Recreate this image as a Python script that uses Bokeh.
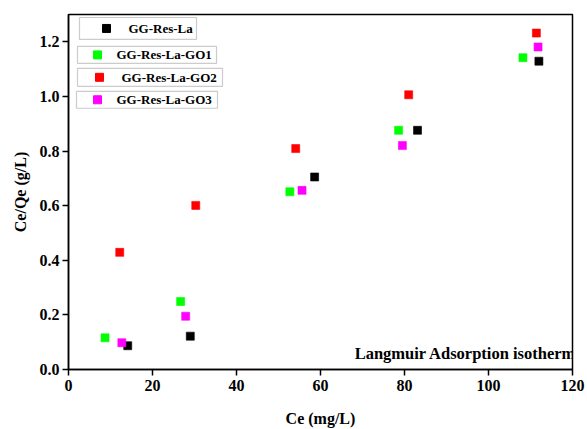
from bokeh.plotting import figure
from bokeh.embed import file_html
from bokeh.resources import INLINE
from bokeh.models import Range1d, FixedTicker, Label, BoxAnnotation, CustomJSTickFormatter

# Data (Ce in mg/L, Ce/Qe in g/L)
la_x = [14.1, 29.0, 58.6, 83.1, 112.0]
la_y = [0.087, 0.122, 0.705, 0.876, 1.129]
go1_x = [8.7, 26.7, 52.7, 78.6, 108.2]
go1_y = [0.116, 0.249, 0.651, 0.876, 1.142]
go2_x = [12.2, 30.3, 54.1, 81.0, 111.4]
go2_y = [0.429, 0.601, 0.809, 1.006, 1.232]
go3_x = [12.7, 27.9, 55.6, 79.5, 111.8]
go3_y = [0.098, 0.195, 0.656, 0.820, 1.181]

series_names = ["GG-Res-La", "GG-Res-La-GO1", "GG-Res-La-GO2", "GG-Res-La-GO3"]
series_colors = ["#000000", "#00ff00", "#ff0000", "#ff00ff"]
x_ticks = [0, 20, 40, 60, 80, 100, 120]
y_ticks = [0.0, 0.2, 0.4, 0.6, 0.8, 1.0, 1.2]

FONT = "'Liberation Serif', 'Times New Roman', serif"

# frame geometry (pixels) used to place legend boxes
FL, FR, FT, FB = 68, 572, 14, 370
XMAX, YMAX = 120.0, 1.3

def dx(px):
    return (px - FL) / (FR - FL) * XMAX

def dy(py):
    return (FB - py) / (FB - FT) * YMAX

p = figure(width=587, height=429, output_backend="svg", toolbar_location=None,
           x_range=Range1d(0, XMAX), y_range=Range1d(0, YMAX),
           min_border_left=FL, min_border_right=587 - FR, min_border_top=FT,
           min_border_bottom=429 - FB)
p.grid.visible = False
p.outline_line_color = "black"
p.outline_line_width = 1.5
p.background_fill_color = "white"
p.border_fill_color = "white"

for ax in (p.xaxis[0], p.yaxis[0]):
    ax.axis_line_color = "black"
    ax.axis_line_width = 1.5
    ax.major_tick_line_color = "black"
    ax.major_tick_line_width = 1.5
    ax.major_tick_out = 6
    ax.major_tick_in = 0
    ax.minor_tick_line_color = None
    ax.major_label_text_font = FONT
    ax.major_label_text_font_style = "bold"
    ax.major_label_text_font_size = "16px"
    ax.major_label_text_color = "black"
    ax.axis_label_text_font = FONT
    ax.axis_label_text_font_style = "bold"
    ax.axis_label_text_font_size = "16px"
    ax.axis_label_text_color = "black"

p.xaxis.ticker = FixedTicker(ticks=x_ticks)
p.yaxis.ticker = FixedTicker(ticks=y_ticks)
p.yaxis.formatter = CustomJSTickFormatter(code="return tick.toFixed(1);")
p.xaxis.axis_label = "Ce (mg/L)"
p.yaxis.axis_label = "Ce/Qe (g/L)"
p.xaxis.major_label_standoff = 4
p.xaxis.axis_label_standoff = 16
p.yaxis.major_label_standoff = 3
p.yaxis.axis_label_standoff = 8

data = [(la_x, la_y), (go1_x, go1_y), (go2_x, go2_y), (go3_x, go3_y)]
for (xs, ys), c in zip(data, series_colors):
    p.scatter(xs, ys, marker="square", size=8, fill_color=c, line_color=c, line_alpha=0.6)

# Legend: separate boxes as in the original (pixel layout converted to data units)
boxes = [
    # (left, top, right, bottom, marker_x, text_x)
    (79, 17, 196, 39, 106, 128),
    (77, 46, 216, 63, 97, 116),
    (77, 68, 222, 86, 99, 121),
    (76, 91, 217, 108, 97, 116),
]
for (l, t, r, b, mx, tx), name, c in zip(boxes, series_names, series_colors):
    p.add_layout(BoxAnnotation(left=dx(l), right=dx(r), top=dy(t), bottom=dy(b),
                               fill_color="white", fill_alpha=1.0, level="underlay",
                               line_color="#555555", line_width=1.2))
    yc = (t + b) / 2.0
    p.scatter([dx(mx)], [dy(yc)], marker="square", size=8, fill_color=c, line_color=c)
    p.add_layout(Label(x=dx(tx), y=dy(yc), text=name, text_font=FONT,
                       text_font_style="bold", text_font_size="13px", text_color="black",
                       text_baseline="middle", text_align="left"))

p.add_layout(Label(x=dx(576), y=dy(354), text="Langmuir Adsorption isotherm",
                   text_font=FONT, text_font_style="bold", text_font_size="16.5px",
                   text_color="black", text_align="right", text_baseline="middle"))

open("out.html", "w").write(file_html(p, INLINE))
